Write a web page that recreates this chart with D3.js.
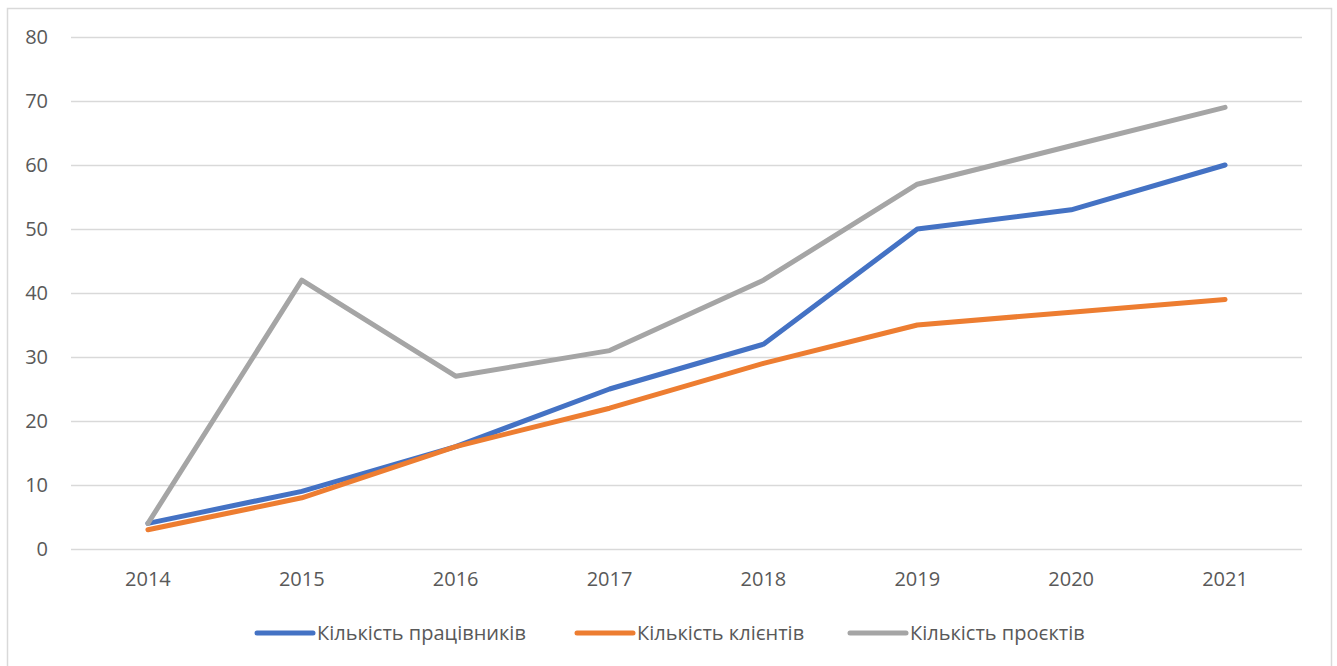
<!DOCTYPE html>
<html>
<head>
<meta charset="utf-8">
<script src="https://cdn.jsdelivr.net/npm/d3@7"></script>
<style>
  body { margin: 0; background: #fff; }
  text { font-family: "Open Sans", "Noto Sans", sans-serif; fill: #595959; }
</style>
</head>
<body>
<div id="chart"></div>
<script>
var years = ["2014", "2015", "2016", "2017", "2018", "2019", "2020", "2021"];
var workers = [4, 9, 16, 25, 32, 50, 53, 60];
var clients = [3, 8, 16, 22, 29, 35, 37, 39];
var projects = [4, 42, 27, 31, 42, 57, 63, 69];
var yTicks = [0, 10, 20, 30, 40, 50, 60, 70, 80];

var series = [
    {name: "Кількість працівників", values: workers, color: "#4472C4"},
    {name: "Кількість клієнтів", values: clients, color: "#ED7D31"},
    {name: "Кількість проєктів", values: projects, color: "#A5A5A5"}
];

var svgWidth = 1337, svgHeight = 666;
var margin = {top: 37, right: 35, bottom: 117, left: 71};
var width = svgWidth - margin.left - margin.right;
var height = svgHeight - margin.top - margin.bottom;

var svg = d3.select("#chart")
    .append("svg")
    .attr("width", svgWidth)
    .attr("height", svgHeight);

// outer frame
svg.append("rect")
    .attr("x", 7.5).attr("y", 8.5)
    .attr("width", 1324).attr("height", 670)
    .attr("fill", "none")
    .attr("stroke", "#D9D9D9")
    .attr("stroke-width", 1.5);

var chartGroup = svg.append("g")
    .attr("transform", `translate(${margin.left}, ${margin.top})`);

var x = d3.scaleBand().domain(years).range([0, width]);
var y = d3.scaleLinear().domain([0, 80]).range([height, 0]);

// gridlines + y labels
var yAxis = d3.axisLeft(y).tickValues(yTicks).tickSize(-width).tickPadding(23);
chartGroup.append("g")
    .call(yAxis)
    .call(g => g.select(".domain").remove())
    .call(g => g.selectAll("line").attr("stroke", "#D9D9D9").attr("stroke-width", 1.5))
    .call(g => g.selectAll("text").style("font-size", "20px").attr("fill", "#595959"));

var xAxis = d3.axisBottom(x).tickSize(0).tickPadding(23);
chartGroup.append("g")
    .attr("transform", `translate(0, ${height})`)
    .call(xAxis)
    .call(g => g.select(".domain").remove())
    .call(g => g.selectAll("text").style("font-size", "20px").attr("fill", "#595959"));

var line = d3.line()
    .x((d, i) => x(years[i]) + x.bandwidth() / 2)
    .y(d => y(d));

chartGroup.selectAll(".series")
    .data(series)
    .enter()
    .append("path")
    .attr("class", "series")
    .attr("d", d => line(d.values))
    .attr("fill", "none")
    .attr("stroke", d => d.color)
    .attr("stroke-width", 5)
    .attr("stroke-linejoin", "round")
    .attr("stroke-linecap", "round");

// legend
var legendX = [257, 577, 850];
var legend = svg.append("g").attr("transform", "translate(0, 633)");
var items = legend.selectAll("g")
    .data(series)
    .enter()
    .append("g")
    .attr("transform", (d, i) => `translate(${legendX[i]}, 0)`);

items.append("line")
    .attr("x1", 0).attr("x2", 56)
    .attr("stroke", d => d.color)
    .attr("stroke-width", 5)
    .attr("stroke-linecap", "round");

items.append("text")
    .attr("x", 60)
    .attr("dy", "0.35em")
    .style("font-size", "20px")
    .text(d => d.name);
</script>
</body>
</html>
